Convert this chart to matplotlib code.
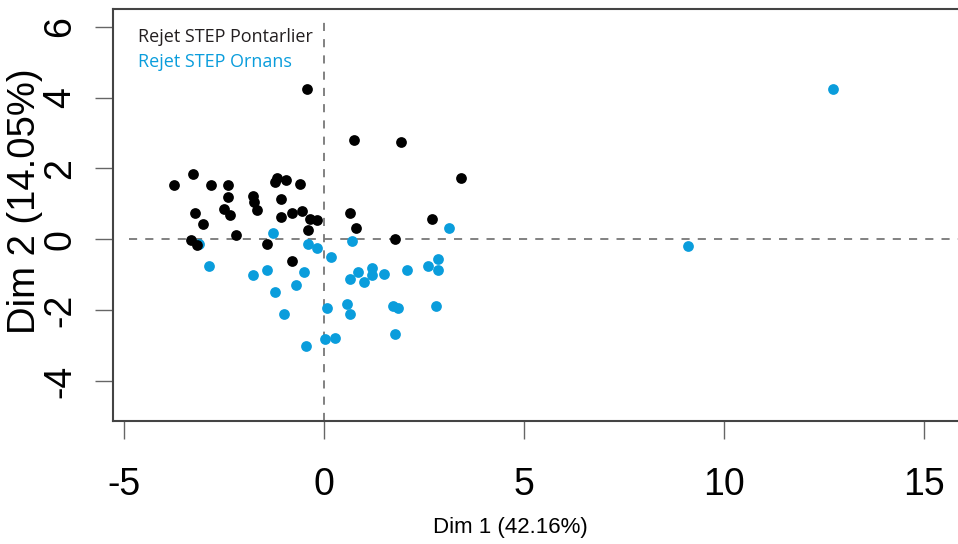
import matplotlib
matplotlib.use('Agg')
import matplotlib.pyplot as plt

# PCA individuals
pontarlier_x = [-0.43, 0.75, 1.93, 3.42, -3.75, -3.27, -2.82, -2.40, -2.40, -1.78,
                -1.74, -1.68, -2.50, -2.34, -3.23, -3.02, -2.20, -3.33, -3.17, -1.43,
                -1.18, -1.23, -0.95, -0.60, -1.07, -1.07, -0.80, -0.54, -0.35, -0.18,
                -0.39, 0.64, 0.79, 1.78, 2.70, -0.81]
pontarlier_y = [4.25, 2.80, 2.75, 1.72, 1.52, 1.84, 1.52, 1.52, 1.20, 1.21,
                1.05, 0.84, 0.85, 0.69, 0.75, 0.43, 0.12, -0.02, -0.16, -0.14,
                1.72, 1.62, 1.68, 1.57, 1.14, 0.63, 0.75, 0.80, 0.58, 0.54,
                0.27, 0.75, 0.32, 0.02, 0.58, -0.60]

ornans_x = [-3.12, -2.87, -1.78, -1.43, -1.28, -0.49, -0.70, -1.22, -1.01, -0.39,
            -0.18, 0.18, 0.69, 0.64, 0.84, 1.00, 1.21, 1.21, 1.51, 2.08,
            2.60, 2.86, 2.86, 3.12, 0.08, 0.58, 0.64, 1.72, 1.84, 2.81,
            1.78, 0.02, 0.28, -0.44, 9.10, 12.72]
ornans_y = [-0.14, -0.76, -1.02, -0.86, 0.17, -0.92, -1.28, -1.49, -2.10, -0.14,
            -0.24, -0.50, -0.04, -1.12, -0.92, -1.22, -0.80, -1.02, -0.97, -0.86,
            -0.76, -0.55, -0.86, 0.32, -1.95, -1.84, -2.10, -1.89, -1.95, -1.89,
            -2.67, -2.83, -2.78, -3.02, -0.20, 4.25]

xticks = [-5, 0, 5, 10, 15]
yticks = [-4, -2, 0, 2, 4, 6]
blue = '#0A9DDC'

fig = plt.figure(figsize=(9.58, 5.44), dpi=100)
ax = fig.add_axes([0.118, 0.2266, 0.882, 0.756])

ax.axhline(0, xmin=0.019, color='#777777', lw=1.3, ls=(0, (4.5, 4.5)), zorder=1)
ax.axvline(0, ymax=0.98, color='#777777', lw=1.3, ls=(0, (4.5, 4.5)), zorder=1)

ax.scatter(pontarlier_x, pontarlier_y, s=60, color='black', lw=0, zorder=3)
ax.scatter(ornans_x, ornans_y, s=60, color=blue, lw=0, zorder=2)

ax.set_xlim(-5.275, 15.85)
ax.set_ylim(-5.124, 6.49)
ax.set_xticks(xticks)
ax.set_yticks(yticks)
ax.set_xticklabels([str(v) for v in xticks], fontsize=27, family='Liberation Sans')
ax.set_yticklabels([str(v) for v in yticks], fontsize=27, family='Liberation Sans',
                   rotation=90, va='center')
ax.tick_params(axis='both', length=13, width=1, color='#666666', direction='out')
ax.tick_params(axis='x', pad=20)
ax.tick_params(axis='y', pad=12)

for side in ['left', 'bottom', 'top']:
    ax.spines[side].set_color('#444444')
    ax.spines[side].set_linewidth(1.5)
ax.spines['right'].set_visible(False)

ax.set_ylabel('Dim 2 (14.05%)', fontsize=27.5, family='Liberation Sans')
ax.yaxis.set_label_coords(-0.083, 0.534)
fig.text(510 / 958, 1 - 527 / 544, 'Dim 1 (42.16%)', fontsize=16, family='Liberation Sans',
         ha='center', va='center')

ax.text(0.03, 0.932, 'Rejet STEP Pontarlier', transform=ax.transAxes,
        fontsize=13, family='Open Sans', color='#231f20', va='center')
ax.text(0.03, 0.872, 'Rejet STEP Ornans', transform=ax.transAxes,
        fontsize=13, family='Open Sans', color=blue, va='center')

fig.savefig('out.png', dpi=100)
